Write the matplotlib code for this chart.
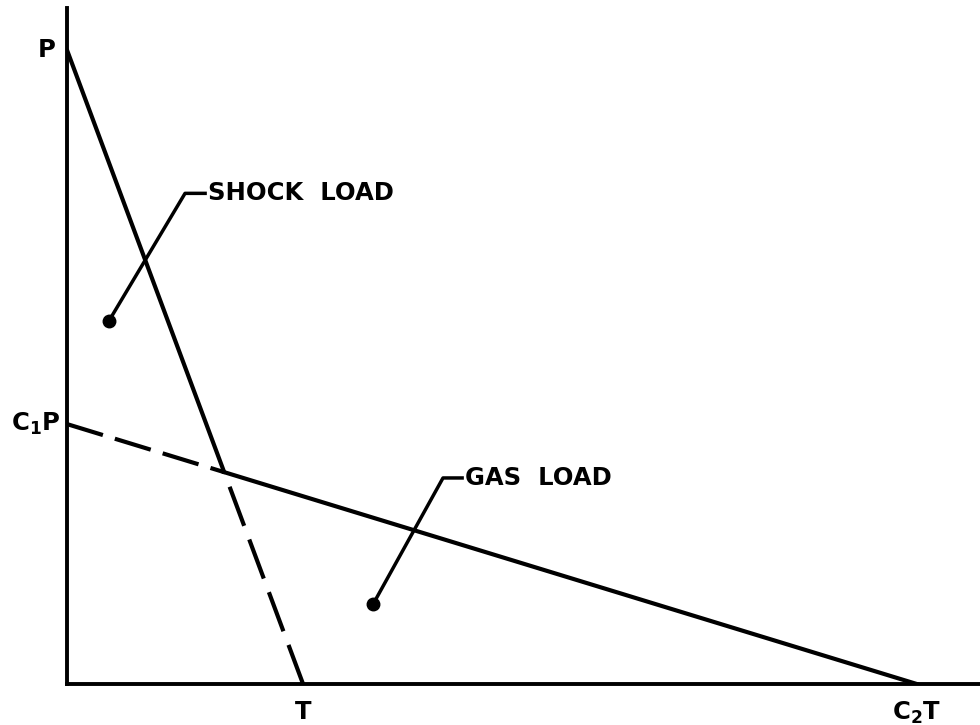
import matplotlib
matplotlib.use("Agg")
import matplotlib.pyplot as plt

# normalised load-time values (P = 1, T = 1)
P = 1.0
T = 1.0
C1 = 0.41
C2 = 3.6

# annotation points: dot, elbow, text start
shock_pts = [(0.178, 0.573), (0.50, 0.774), (0.585, 0.774)]
gas_pts = [(1.297, 0.126), (1.593, 0.325), (1.674, 0.325)]
labels = ["SHOCK  LOAD", "GAS  LOAD"]

plt.rcParams['mathtext.fontset'] = 'dejavusans'

fig = plt.figure(figsize=(9.8, 7.25), dpi=100)
ax = fig.add_axes([0.0684, 0.0566, 0.932, 0.932])
ax.set_xlim(0, 3.87)
ax.set_ylim(0, 1.066)

for s in ['top', 'right']:
    ax.spines[s].set_visible(False)
for s in ['left', 'bottom']:
    ax.spines[s].set_linewidth(2.8)
ax.set_xticks([])
ax.set_yticks([])

# crossing of the two load lines
xi = (P - C1 * P) / (P / T - C1 * P / (C2 * T))
yi = P * (1 - xi / T)

lw = 3.0
ax.plot([0, xi], [P, yi], color='black', lw=lw, solid_capstyle='round')
ax.plot([T, xi], [0, yi], color='black', lw=lw, dashes=(10, 3.5))
ax.plot([0, xi], [C1 * P, yi], color='black', lw=lw, dashes=(9, 3))
ax.plot([xi, C2 * T], [yi, 0], color='black', lw=lw)

fs = 17.5
for pts, lab in zip([shock_pts, gas_pts], labels):
    xs = [p[0] for p in pts]
    ys = [p[1] for p in pts]
    ax.plot(xs, ys, color='black', lw=2.5)
    ax.plot(xs[0], ys[0], 'o', color='black', ms=9)
    ax.text(xs[-1] + 0.012, ys[-1], lab, fontsize=fs, fontweight='bold',
            ha='left', va='center')

ax.text(-0.05, P, 'P', fontsize=fs, fontweight='bold', ha='right', va='center')
ax.text(-0.03, C1 * P, r'$\mathbf{C_{1}P}$', fontsize=fs, ha='right', va='center')
ax.text(T, -0.025, 'T', fontsize=fs, fontweight='bold', ha='center', va='top')
ax.text(C2 * T, -0.025, r'$\mathbf{C_{2}T}$', fontsize=fs, ha='center', va='top')

fig.savefig('out.png', dpi=100)
